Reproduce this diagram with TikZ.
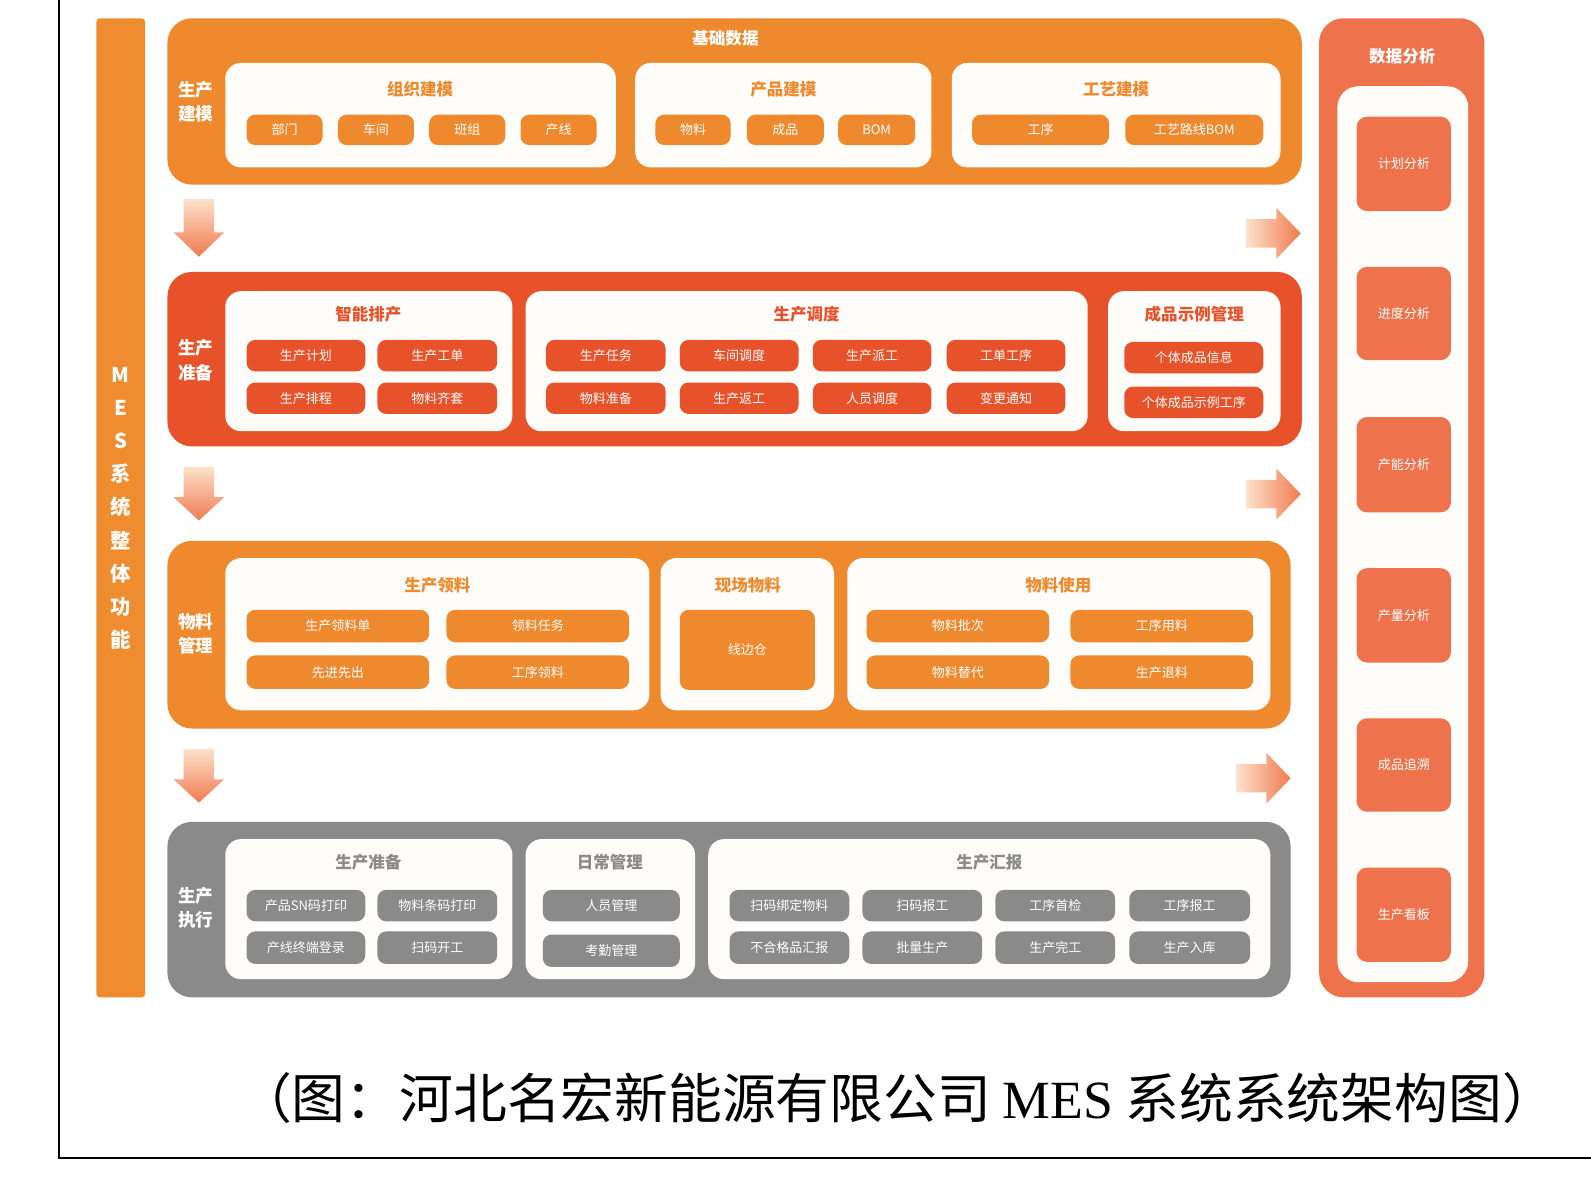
\documentclass[tikz,border=0pt]{standalone}
\usepackage{fontspec}
\setmainfont{Noto Sans CJK SC}
\newfontfamily\capserif{Liberation Serif}
\usepackage{tikz}
\definecolor{BandOrange}{RGB}{239,137,46}
\definecolor{BandRed}{RGB}{232,82,42}
\definecolor{BandGray}{RGB}{138,138,138}
\definecolor{BandCoral}{RGB}{238,114,76}
\definecolor{BarOrange}{RGB}{240,140,48}
\definecolor{PanelWhite}{RGB}{255,253,250}
\definecolor{ArrLight}{RGB}{252,226,204}
\definecolor{ArrDark}{RGB}{240,122,78}
\newcommand{\itemfont}{\fontsize{3.7}{4.4}\selectfont}
\newcommand{\titlefont}{\fontsize{4.7}{5.6}\selectfont\bfseries}
\newcommand{\sidefont}{\fontsize{5}{6.9}\selectfont\bfseries}
% box from corner (x1,y1) to corner (x2,y2), in pixels of the picture
\newcommand{\bx}[7]{\node[#1,minimum width={(#5-#3)*0.010147cm},minimum height={(#6-#4)*0.010147cm}] (#2) at ({(#3+#5)/2},{(#4+#6)/2}) {#7};}
\tikzset{
  band/.style={fill=#1,rounded corners=7pt,inner sep=0pt},
  panel/.style={fill=PanelWhite,rounded corners=4.5pt,inner sep=0pt},
  item/.style={fill=#1,rounded corners=2.5pt,text=white,font=\itemfont,inner sep=0pt},
  ptitle/.style={text=#1,font=\titlefont,inner sep=0pt},
  side/.style={text=white,font=\sidefont,align=center,inner sep=0pt},
  darr/.style={top color=ArrLight,bottom color=ArrDark},
  rarr/.style={left color=ArrLight,right color=ArrDark},
}
\begin{document}
\begin{tikzpicture}[x=0.010147cm,y=-0.010147cm]
\useasboundingbox (0,0) rectangle (1568,1173);
\draw[line width=0.6pt] (58,0) -- (58,1141) -- (1568,1141);
% left bar
\bx{band=BarOrange,rounded corners=1pt}{bar}{95}{18}{143}{983}{}
\node[text=white,font=\fontsize{5.8}{9.4}\selectfont\bfseries,align=center] (bartext) at (119,501) {M\\E\\S\\系\\统\\整\\体\\功\\能};
% basic data
\bx{band=BandOrange}{b1}{165}{18}{1283}{182}{}
\node[text=white,font=\titlefont] (b1t) at (715,38) {基础数据};
\node[side] (b1s) at (193,100) {生产\\建模};
\bx{panel}{p11}{222}{62}{607}{165}{}
\bx{panel}{p12}{626}{62}{918}{165}{}
\bx{panel}{p13}{938}{62}{1262}{165}{}
\node[ptitle=BandOrange] (p11t) at (414,88) {组织建模};
\node[ptitle=BandOrange] (p12t) at (772,88) {产品建模};
\node[ptitle=BandOrange] (p13t) at (1100,88) {工艺建模};
\bx{item=BandOrange}{i111}{243}{113}{318}{143}{部门}
\bx{item=BandOrange}{i112}{333}{113}{408}{143}{车间}
\bx{item=BandOrange}{i113}{423}{113}{498}{143}{班组}
\bx{item=BandOrange}{i114}{513}{113}{588}{143}{产线}
\bx{item=BandOrange}{i121}{646}{113}{720}{143}{物料}
\bx{item=BandOrange}{i122}{736}{113}{812}{143}{成品}
\bx{item=BandOrange}{i123}{826}{113}{902}{143}{BOM}
\bx{item=BandOrange}{i131}{958}{113}{1093}{143}{工序}
\bx{item=BandOrange}{i132}{1109}{113}{1245}{143}{工艺路线BOM}
% production preparation
\bx{band=BandRed}{b2}{165}{268}{1283}{440}{}
\node[side] (b2s) at (193,355) {生产\\准备};
\bx{panel}{p21}{222}{287}{505}{425}{}
\bx{panel}{p22}{518}{287}{1072}{425}{}
\bx{panel}{p23}{1092}{287}{1262}{425}{}
\node[ptitle=BandRed] (p21t) at (363,310) {智能排产};
\node[ptitle=BandRed] (p22t) at (795,310) {生产调度};
\node[ptitle=BandRed] (p23t) at (1177,310) {成品示例管理};
\bx{item=BandRed}{i211}{243}{335}{360}{366}{生产计划}
\bx{item=BandRed}{i212}{372}{335}{490}{366}{生产工单}
\bx{item=BandRed}{i213}{243}{377}{360}{408}{生产排程}
\bx{item=BandRed}{i214}{372}{377}{490}{408}{物料齐套}
\bx{item=BandRed}{i221}{538}{335}{656}{366}{生产任务}
\bx{item=BandRed}{i222}{670}{335}{787}{366}{车间调度}
\bx{item=BandRed}{i223}{801}{335}{918}{366}{生产派工}
\bx{item=BandRed}{i224}{933}{335}{1050}{366}{工单工序}
\bx{item=BandRed}{i225}{538}{377}{656}{408}{物料准备}
\bx{item=BandRed}{i226}{670}{377}{787}{408}{生产返工}
\bx{item=BandRed}{i227}{801}{377}{918}{408}{人员调度}
\bx{item=BandRed}{i228}{933}{377}{1050}{408}{变更通知}
\bx{item=BandRed}{i231}{1108}{337}{1245}{368}{个体成品信息}
\bx{item=BandRed}{i232}{1108}{381}{1245}{412}{个体成品示例工序}
% material management
\bx{band=BandOrange}{b3}{165}{533}{1272}{718}{}
\node[side] (b3s) at (193,625) {物料\\管理};
\bx{panel}{p31}{222}{550}{640}{700}{}
\bx{panel}{p32}{651}{550}{822}{700}{}
\bx{panel}{p33}{835}{550}{1252}{700}{}
\node[ptitle=BandOrange] (p31t) at (431,577) {生产领料};
\node[ptitle=BandOrange] (p32t) at (737,577) {现场物料};
\node[ptitle=BandOrange] (p33t) at (1043,577) {物料使用};
\bx{item=BandOrange}{i311}{243}{601}{423}{633}{生产领料单}
\bx{item=BandOrange}{i312}{440}{601}{620}{633}{领料任务}
\bx{item=BandOrange}{i313}{243}{646}{423}{679}{先进先出}
\bx{item=BandOrange}{i314}{440}{646}{620}{679}{工序领料}
\bx{item=BandOrange}{i321}{670}{601}{803}{680}{线边仓}
\bx{item=BandOrange}{i331}{854}{601}{1034}{633}{物料批次}
\bx{item=BandOrange}{i332}{1055}{601}{1235}{633}{工序用料}
\bx{item=BandOrange}{i333}{854}{646}{1034}{679}{物料替代}
\bx{item=BandOrange}{i334}{1055}{646}{1235}{679}{生产退料}
% production execution
\bx{band=BandGray}{b4}{165}{810}{1272}{983}{}
\node[side] (b4s) at (193,895) {生产\\执行};
\bx{panel}{p41}{222}{827}{505}{965}{}
\bx{panel}{p42}{518}{827}{685}{965}{}
\bx{panel}{p43}{698}{827}{1252}{965}{}
\node[ptitle=BandGray] (p41t) at (363,850) {生产准备};
\node[ptitle=BandGray] (p42t) at (601,850) {日常管理};
\node[ptitle=BandGray] (p43t) at (975,850) {生产汇报};
\bx{item=BandGray}{i411}{243}{877}{360}{908}{产品SN码打印}
\bx{item=BandGray}{i412}{372}{877}{490}{908}{物料条码打印}
\bx{item=BandGray}{i413}{243}{918}{360}{950}{产线终端登录}
\bx{item=BandGray}{i414}{372}{918}{490}{950}{扫码开工}
\bx{item=BandGray}{i421}{535}{877}{670}{908}{人员管理}
\bx{item=BandGray}{i422}{535}{921}{670}{953}{考勤管理}
\bx{item=BandGray}{i431}{719}{877}{837}{908}{扫码绑定物料}
\bx{item=BandGray}{i432}{850}{877}{968}{908}{扫码报工}
\bx{item=BandGray}{i433}{981}{877}{1099}{908}{工序首检}
\bx{item=BandGray}{i434}{1113}{877}{1232}{908}{工序报工}
\bx{item=BandGray}{i435}{719}{918}{837}{950}{不合格品汇报}
\bx{item=BandGray}{i436}{850}{918}{968}{950}{批量生产}
\bx{item=BandGray}{i437}{981}{918}{1099}{950}{生产完工}
\bx{item=BandGray}{i438}{1113}{918}{1232}{950}{生产入库}
% data analysis
\bx{band=BandCoral}{da}{1300}{18}{1463}{983}{}
\node[text=white,font=\titlefont] (dat) at (1382,55) {数据分析};
\bx{panel,rounded corners=6pt}{dap}{1318}{85}{1447}{968}{}
\bx{item=BandCoral,rounded corners=3pt}{da1}{1337}{115}{1430}{208}{计划分析}
\bx{item=BandCoral,rounded corners=3pt}{da2}{1337}{263}{1430}{355}{进度分析}
\bx{item=BandCoral,rounded corners=3pt}{da3}{1337}{411}{1430}{505}{产能分析}
\bx{item=BandCoral,rounded corners=3pt}{da4}{1337}{560}{1430}{653}{产量分析}
\bx{item=BandCoral,rounded corners=3pt}{da5}{1337}{708}{1430}{800}{成品追溯}
\bx{item=BandCoral,rounded corners=3pt}{da6}{1337}{855}{1430}{948}{生产看板}
% flow arrows
\shade[darr] (181,196) -- (211,196) -- (211,229) -- (221,229) -- (196,253) -- (171,229) -- (181,229) -- cycle;
\shade[darr] (181,460) -- (211,460) -- (211,490) -- (221,490) -- (196,513) -- (171,490) -- (181,490) -- cycle;
\shade[darr] (181,738) -- (211,738) -- (211,768) -- (221,768) -- (196,791) -- (171,768) -- (181,768) -- cycle;
\shade[rarr] (1228,216) -- (1258,216) -- (1258,205) -- (1282,230) -- (1258,255) -- (1258,244) -- (1228,244) -- cycle;
\shade[rarr] (1228,473) -- (1258,473) -- (1258,462) -- (1282,487) -- (1258,512) -- (1258,501) -- (1228,501) -- cycle;
\shade[rarr] (1218,753) -- (1248,753) -- (1248,742) -- (1272,767) -- (1248,792) -- (1248,781) -- (1218,781) -- cycle;
% caption
\node[font=\fontsize{15.3}{17}\selectfont] (cap) at (884,1082) {（图：河北名宏新能源有限公司 {\capserif MES} 系统系统架构图）};
\end{tikzpicture}
\end{document}
